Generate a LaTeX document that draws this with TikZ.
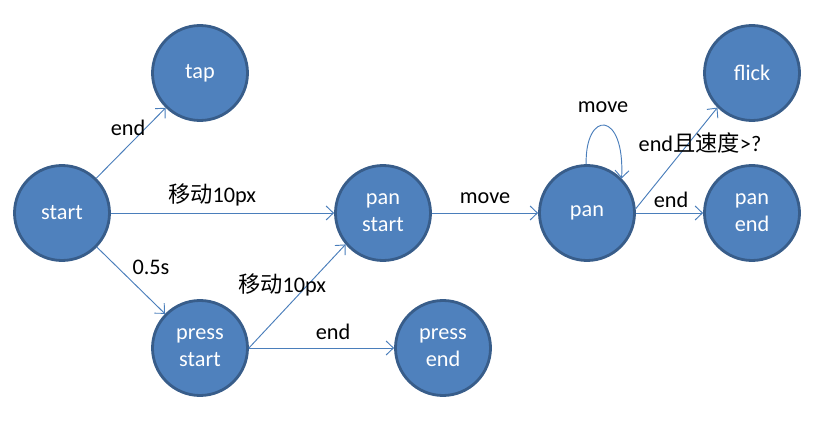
\documentclass[tikz,border=0pt]{standalone}
\usepackage{fontspec}
\setmainfont{Carlito}
\newfontfamily\cjk{Noto Sans CJK SC}
\usetikzlibrary{arrows.meta}
\definecolor{StateFill}{HTML}{4F81BD}
\definecolor{StateEdge}{HTML}{385D8A}
\definecolor{LinkBlue}{HTML}{4A7EBB}

\begin{document}
\begin{tikzpicture}[
  x=0.03cm, y=-0.03cm,
  every node/.style={font=\fontsize{19}{23}\selectfont},
  state/.style={circle, draw=StateEdge, line width=2.4pt, fill=StateFill, text=white, minimum size=2.85cm, inner sep=0pt, align=center},
  arrow/.style={-{Straight Barb[length=2.2mm, width=4.2mm]}, line width=0.8pt, color=LinkBlue},
  lbl/.style={text=black, inner sep=0pt}
]
\useasboundingbox (0,0) rectangle (835,427);

\node[state] (start) at (62,213) {start};
\node[state] (tap) at (200,73) {tap};
\node[state] (panstart) at (383,213) {pan\\start};
\node[state] (pan) at (587,213) {pan};
\node[state] (flick) at (752,73) {flick};
\node[state] (panend) at (752,213) {pan\\end};
\node[state] (pressstart) at (200,348) {press\\start};
\node[state] (pressend) at (443,348) {press\\end};

\draw[arrow] (start) -- (tap);
\draw[arrow] (start) -- (panstart);
\draw[arrow] (start) -- (pressstart);
\draw[arrow] (pressstart.east) -- (panstart.220);
\draw[arrow] (pressstart) -- (pressend);
\draw[arrow] (panstart) -- (pan);
\draw[arrow] (pan.91) .. controls (585,110) and (625,110) .. (pan.45);
\draw[arrow] (pan.5) -- (flick.225);
\draw[arrow] (pan.east) -- (panend.west);

\node[lbl] (tapend) at (128,128) {end};
\node[lbl] (startmove) at (212,195) {{\cjk 移动}10px};
\node[lbl] (hold) at (151,267) {0.5s};
\node[lbl] (pressmove) at (282,285) {{\cjk 移动}10px};
\node[lbl] (pressendlbl) at (333,332) {end};
\node[lbl] (panmove) at (485,198) {move};
\node[lbl] (loopmove) at (603,107) {move};
\node[lbl] (flicklbl) at (700,143) {end{\cjk 且速度}>?};
\node[lbl] (panendlbl) at (671,200) {end};
\end{tikzpicture}
\end{document}
